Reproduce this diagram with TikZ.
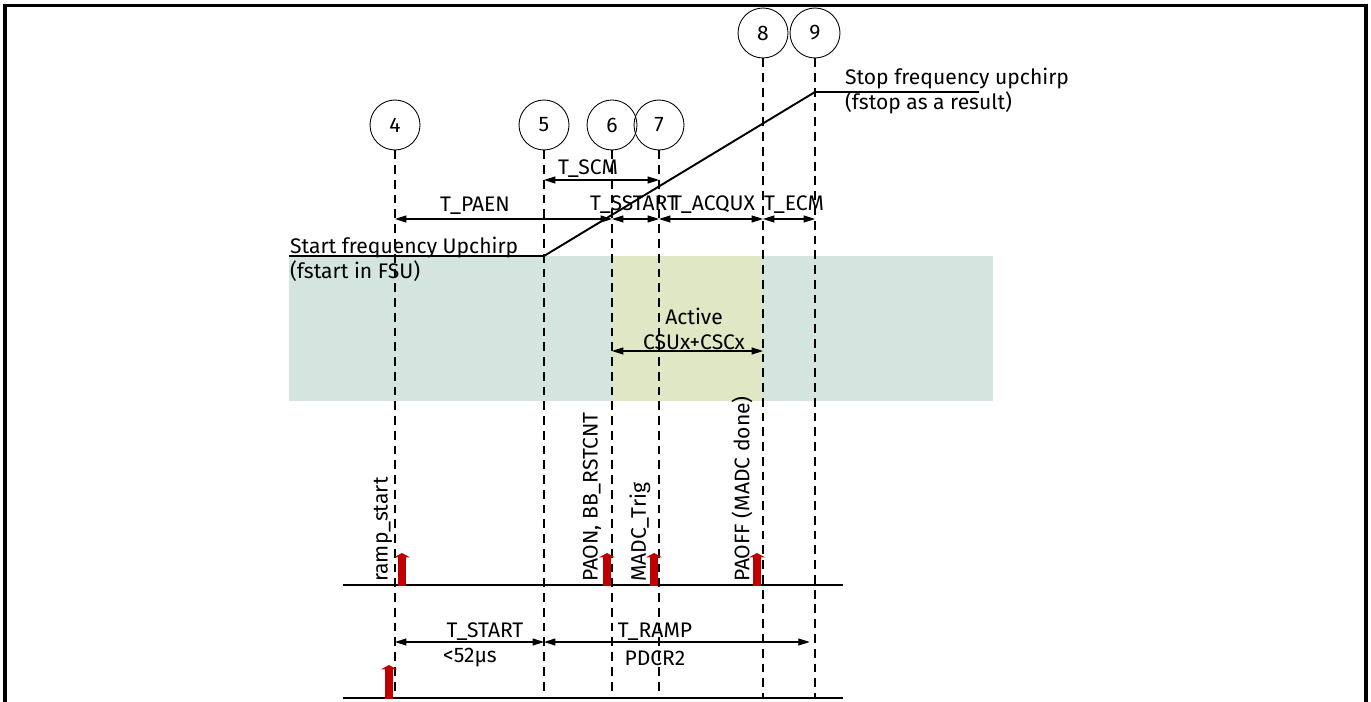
\documentclass[tikz,border=0pt]{standalone}
\usepackage{fontspec}
\setmainfont{Fira Sans}
\usepackage{tikz}
\usetikzlibrary{arrows.meta, positioning}
\usepackage{xcolor}
\definecolor{bandteal}{RGB}{212, 228, 222}
\definecolor{bandlime}{RGB}{224, 231, 196}
\definecolor{trigred}{RGB}{192, 0, 0}

\begin{document}
\begin{tikzpicture}[x=0.02cm, y=-0.02cm,
    every node/.style={font=\fontsize{12}{14.2}\selectfont, inner sep=1pt},
    marker/.style={draw, circle, minimum size=1cm, inner sep=0pt, line width=0.5pt},
    guide/.style={line width=0.6pt, dash pattern=on 5pt off 3.4pt},
    dim/.style={line width=0.6pt, {Triangle[length=6.5pt, width=4pt]}-{Triangle[length=6.5pt, width=4pt]}},
    trig/.style={trigred, line width=4.5pt, -{Triangle[length=2.5pt, width=9pt]}},
    base/.style={line width=1.2pt}]
    \useasboundingbox (0,0) rectangle (1371,702);
    % Frame
    \draw[line width=1.8pt] (5,702) -- (5,5.5) -- (1366,5.5) -- (1366,702);

    % Bands
    \fill[bandteal] (289,256) rectangle (993,401);
    \fill[bandlime] (612,256) rectangle (763,401);

    % Markers
    \node[marker] (c4) at (395,125) {4};
    \node[marker] (c5) at (544,125) {5};
    \node[marker] (c6) at (612,125) {6};
    \node[marker] (c7) at (659,125) {7};
    \node[marker] (c8) at (763,33) {8};
    \node[marker] (c9) at (815,33) {9};

    % Levels
    \coordinate (bottom) at (0,699);
    \coordinate (scm) at (0,180);
    \coordinate (paen) at (0,219);
    \coordinate (active) at (0,351);
    \coordinate (ramp) at (0,642);

    % Guides
    \draw[guide] (c4.south) -- (c4 |- bottom);
    \draw[guide] (c5.south) -- (c5 |- bottom);
    \draw[guide] (c6.south) -- (c6 |- bottom);
    \draw[guide] (c7.south) -- (c7 |- bottom);
    \draw[guide] (c8.south) -- (c8 |- bottom);
    \draw[guide] (c9.south) -- (c9 |- bottom);

    % Frequency ramp
    \coordinate (fs0) at (289,256);
    \coordinate (fe0) at (979,92);
    \draw[line width=1.1pt] (fs0) -- (c5 |- fs0) -- (c9 |- fe0) -- (fe0);
    \node[anchor=west, align=left] (fstart) at (288,259) {Start frequency Upchirp\\(fstart in FSU)};
    \node[anchor=west, align=left] (fstop) at (843,91) {Stop frequency upchirp\\(fstop as a result)};

    % Timing
    \draw[dim] (c5 |- scm) -- (c7 |- scm);
    \node (tscm) at (588,169) {T\_SCM};
    \draw[dim] (c4 |- paen) -- (c6 |- paen);
    \node (tpaen) at (475,206) {T\_PAEN};
    \draw[dim] (c6 |- paen) -- (c7 |- paen);
    \node (tsstart) at (634,205) {T\_SSTART};
    \draw[dim] (c7 |- paen) -- (c8 |- paen);
    \node (tacqux) at (713,205) {T\_ACQUX};
    \draw[dim] (c8 |- paen) -- (c9 |- paen);
    \node (tecm) at (794,205) {T\_ECM};
    \draw[dim] (c6 |- active) -- (c8 |- active);
    \node[align=center] (csux) at (694,329) {Active\\CSUx+CSCx};

    % Triggers
    \draw[base] (343,585) -- (843,585);
    \draw[base] (343,698) -- (843,698);
    \coordinate (r4) at (402,586);
    \coordinate (r6) at (607,586);
    \coordinate (r7) at (654,586);
    \coordinate (r8) at (757,586);
    \coordinate (r0) at (389,699);
    \draw[trig] (r4) -- ++(0,-33);
    \draw[trig] (r6) -- ++(0,-33);
    \draw[trig] (r7) -- ++(0,-33);
    \draw[trig] (r8) -- ++(0,-33);
    \draw[trig] (r0) -- ++(0,-34);
    \node[rotate=90, anchor=west] (rampstart) at (383,584) {ramp\_start};
    \node[rotate=90, anchor=west] (paon) at (592,584) {PAON, BB\_RSTCNT};
    \node[rotate=90, anchor=west] (madc) at (640,584) {MADC\_Trig};
    \node[rotate=90, anchor=west] (paoff) at (742,584) {PAOFF (MADC done)};

    % Durations
    \draw[dim] (c4 |- ramp) -- (c5 |- ramp);
    \node (tstart) at (485,632) {T\_START};
    \node (lim) at (470,658) {<52µs};
    \draw[dim] (c5 |- ramp) -- ([xshift=-3]c9 |- ramp);
    \node (tramp) at (655,632) {T\_RAMP};
    \node (pdcr) at (655,658) {PDCR2};
\end{tikzpicture}
\end{document}
